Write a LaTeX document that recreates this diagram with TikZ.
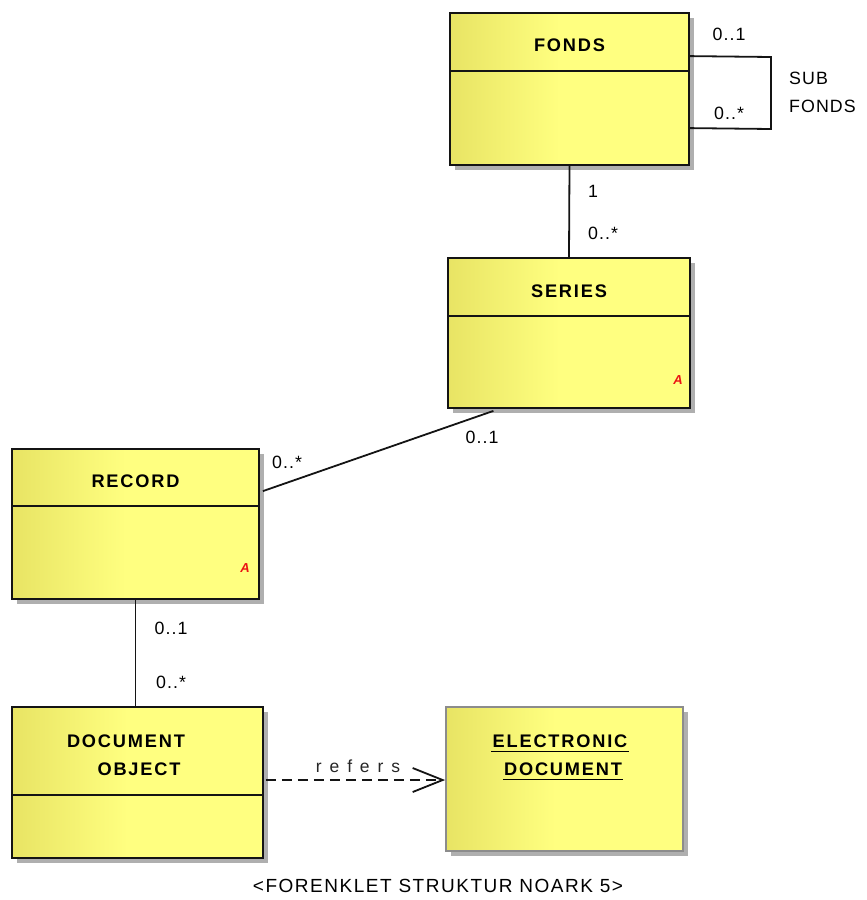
\documentclass[tikz,border=0pt]{standalone}
\usepackage{fontspec}
\setmainfont{Liberation Sans}
\newfontfamily\lblfont{Liberation Sans}[LetterSpace=6]
\newfontfamily\ttlfont{Liberation Sans}[LetterSpace=10]
\newfontfamily\capfont{Liberation Sans}[LetterSpace=8]
\newfontfamily\refsfont{Liberation Sans}[LetterSpace=45]
\usetikzlibrary{calc,shadows,arrows.meta}
\definecolor{umlA}{RGB}{232,228,100}
\definecolor{umlB}{RGB}{255,255,128}
\definecolor{edge}{RGB}{20,20,20}
\definecolor{shade}{RGB}{175,175,175}
\definecolor{redA}{RGB}{235,20,20}
\pgfdeclarehorizontalshading{umlfill}{100bp}{color(0bp)=(umlA); color(25bp)=(umlA); color(48bp)=(umlB); color(100bp)=(umlB)}
\tikzset{
  umlbox/.style={rectangle, draw=edge, line width=1.8pt, shading=umlfill, inner sep=0pt,
    drop shadow={shadow xshift=5pt, shadow yshift=-5pt, fill=shade, opacity=1}},
  objbox/.style={umlbox, draw=black!45},
  ttl/.style={font=\ttlfont\bfseries\fontsize{18.2}{21}\selectfont, inner sep=0pt, text=black},
  lbl/.style={font=\lblfont\fontsize{17.8}{21}\selectfont, inner sep=0pt, text=black},
  divline/.style={draw=edge, line width=1.8pt},
  conn/.style={draw=edge, line width=1.8pt},
  abs/.style={font=\bfseries\itshape\fontsize{13}{14}\selectfont, text=redA, inner sep=0pt}
}
\begin{document}
\begin{tikzpicture}[x=1pt,y=-1pt]
\useasboundingbox (0,0) rectangle (867,900);
% boxes
\node[umlbox, minimum width=239pt, minimum height=152pt] (fonds) at (569.5,89) {};
\node[umlbox, minimum width=242pt, minimum height=150pt] (series) at (569,333) {};
\node[umlbox, minimum width=247pt, minimum height=150pt] (record) at (135.5,524) {};
\node[umlbox, minimum width=251pt, minimum height=151pt] (docobj) at (137.5,782.5) {};
\node[objbox, minimum width=237pt, minimum height=144pt] (elec) at (564.5,779) {};
% dividers
\coordinate (fd) at ($(fonds.north west)+(0,59)$);
\draw[divline] (fd) -- (fd -| fonds.east);
\coordinate (sd) at ($(series.north west)+(0,59)$);
\draw[divline] (sd) -- (sd -| series.east);
\coordinate (rd) at ($(record.north west)+(0,58)$);
\draw[divline] (rd) -- (rd -| record.east);
\coordinate (dd) at ($(docobj.north west)+(0,89)$);
\draw[divline] (dd) -- (dd -| docobj.east);
% titles
\node[ttl] (fondsT) at (569.5,45) {FONDS};
\node[ttl] (seriesT) at (569,291) {SERIES};
\node[ttl] (recordT) at (135.5,481) {RECORD};
\node[ttl] (docT1) at (126,741) {DOCUMENT};
\node[ttl] (docT2) at (139,769) {OBJECT};
\node[ttl] (elecT1) at (560,741) {ELECTRONIC};
\node[ttl] (elecT2) at (563,769) {DOCUMENT};
\draw[line width=1.6pt, draw=black] ($(elecT1.south west)+(-1,4)$) -- ($(elecT1.south east)+(1,4)$);
\draw[line width=1.6pt, draw=black] ($(elecT2.south west)+(-1,4)$) -- ($(elecT2.south east)+(1,4)$);
% abstract markers
\node[abs] (seriesA) at (678,380) {A};
\node[abs] (recordA) at (245,568) {A};
% self association on FONDS
\coordinate (la) at ($(fonds.north east)+(0,44)$);
\coordinate (lb) at ($(fonds.north east)+(0,116)$);
\coordinate (lc) at (771,57);
\coordinate (ld) at (771,129);
\draw[conn] (la) -- (lc) -- (ld) -- (lb);
\node[lbl] (m1) at (729,34) {0..1};
\node[lbl] (m2) at (729,113) {0..*};
\node[lbl, anchor=west] (sub1) at (789,78) {SUB};
\node[lbl, anchor=west] (sub2) at (789,106) {FONDS};
% FONDS - SERIES
\draw[conn] (fonds.south) -- (series.north);
\node[lbl] (m3) at (593,191) {1};
\node[lbl] (m4) at (603,233) {0..*};
% SERIES - RECORD
\coordinate (sr1) at ($(series.south west)!0.19!(series.south east)+(0,2)$);
\coordinate (sr2) at ($(record.north east)+(3,43)$);
\draw[conn] (sr1) -- (sr2);
\node[lbl] (m5) at (482,437) {0..1};
\node[lbl] (m6) at (287,462) {0..*};
% RECORD - DOCUMENT OBJECT
\draw[conn] (record.south) -- (record.south |- docobj.north);
\node[lbl] (m7) at (171,628) {0..1};
\node[lbl] (m8) at (171,682) {0..*};
% refers dependency
\coordinate (r1) at ($(docobj.east)+(2,-2.5)$);
\draw[conn, dash pattern=on 10pt off 6pt, -{Straight Barb[length=30pt,width=24pt,line width=1.8pt]}] (r1) -- (r1 -| elec.west);
\node[font=\refsfont\fontsize{17.5}{20}\selectfont, inner sep=0pt, text=black!85] (refersL) at (358,766) {refers};
% caption
\node[font=\capfont\fontsize{19}{22}\selectfont, inner sep=0pt] (cap) at (438,886) {<FORENKLET STRUKTUR NOARK 5>};
\end{tikzpicture}
\end{document}
